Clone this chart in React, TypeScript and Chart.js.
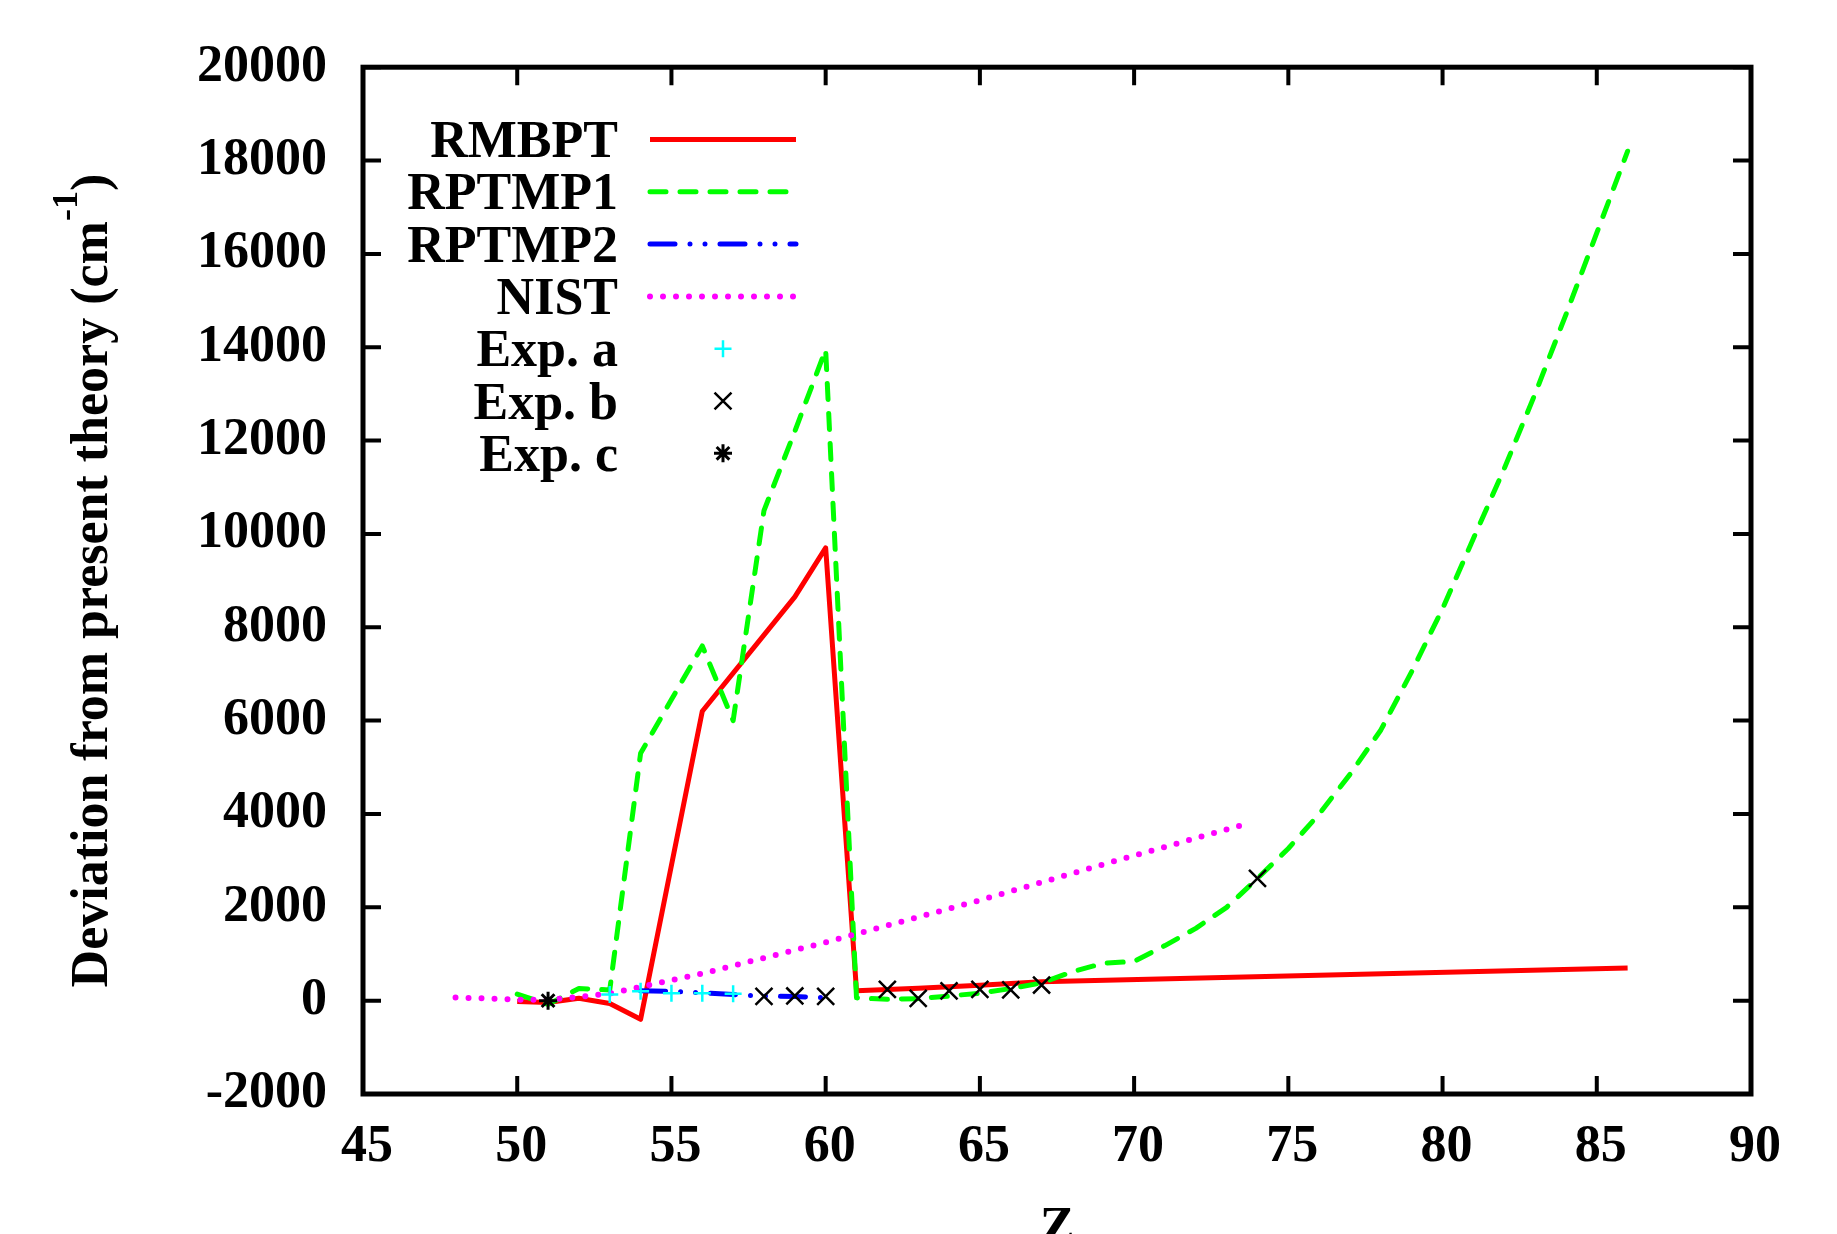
import React, { useEffect, useRef } from 'react';
import { Chart, registerables } from 'chart.js';

Chart.register(...registerables);

// ---- data ----
const rmbptZ = [50, 51, 52, 53, 54, 56, 59, 60, 61, 62, 63, 64, 65, 66, 67, 86];
const rmbptDev = [-20, -40, 50, -60, -400, 6200, 8650, 9700, 210, 240, 265, 300, 330, 370, 405, 700];

const rptmp1Z = [50, 51, 52, 53, 54, 55, 56, 57, 58, 59, 60, 61, 62, 63, 64, 65, 66, 67, 68, 69, 70, 71, 72, 73, 74, 75, 76, 77, 78, 79, 80, 81, 82, 83, 84, 85, 86];
const rptmp1Dev = [140, -80, 260, 230, 5300, 6450, 7600, 6000, 10500, 12200, 13950, 60, 30, 40, 100, 160, 260, 380, 620, 800, 840, 1180, 1550, 2000, 2620, 3260, 4000, 4850, 5800, 7050, 8400, 9900, 11400, 13000, 14700, 16450, 18200];

const rptmp2Z = [54, 55, 56, 57, 58, 59, 60];
const rptmp2Dev = [210, 200, 170, 130, 100, 90, 60];

const nistZ = [48, 50, 51, 53, 56, 60, 65, 69, 73.7];
const nistDev = [70, 20, 15, 150, 580, 1250, 2150, 2920, 3800];

const expAZ = [53, 54, 55, 56, 57];
const expADev = [130, 200, 160, 160, 150];

const expBZ = [58, 59, 60, 62, 63, 64, 65, 66, 67, 74];
const expBDev = [90, 100, 90, 240, 50, 210, 240, 230, 335, 2620];

const expCZ = [51];
const expCDev = [0];

const zTicks = [45, 50, 55, 60, 65, 70, 75, 80, 85, 90];
const devTicks = [-2000, 0, 2000, 4000, 6000, 8000, 10000, 12000, 14000, 16000, 18000, 20000];

const legendLabels = ['RMBPT', 'RPTMP1', 'RPTMP2', 'NIST', 'Exp. a', 'Exp. b', 'Exp. c'];
const yTitle = 'Deviation from present theory (cm';
const yTitleSup = '-1';
const xTitle = 'Z';

const FAMILY = "'Liberation Serif', 'Times New Roman', serif";
const W = 1837;
const H = 1234;

const pts = (xs: number[], ys: number[]) => xs.map((x, i) => ({ x, y: ys[i] }));

function drawMarker(ctx: CanvasRenderingContext2D, style: string, x: number, y: number, r: number) {
  ctx.beginPath();
  if (style === 'cross' || style === 'star') {
    ctx.moveTo(x - r, y); ctx.lineTo(x + r, y);
    ctx.moveTo(x, y - r); ctx.lineTo(x, y + r);
  }
  if (style === 'crossRot' || style === 'star') {
    const d = r * Math.SQRT1_2;
    ctx.moveTo(x - d, y - d); ctx.lineTo(x + d, y + d);
    ctx.moveTo(x - d, y + d); ctx.lineTo(x + d, y - d);
  }
  ctx.stroke();
}

const framePlugin = {
  id: 'gnuFrame',
  afterDatasetsDraw(chart: any) {
    const { ctx, chartArea, scales } = chart;
    const { left, right, top, bottom } = chartArea;
    const TICK = 18;
    ctx.save();
    ctx.strokeStyle = '#000';
    ctx.lineWidth = 4;
    ctx.beginPath();
    for (const v of zTicks) {
      const px = scales.x.getPixelForValue(v);
      ctx.moveTo(px, bottom); ctx.lineTo(px, bottom - TICK);
      ctx.moveTo(px, top); ctx.lineTo(px, top + TICK);
    }
    for (const v of devTicks) {
      const py = scales.y.getPixelForValue(v);
      ctx.moveTo(left, py); ctx.lineTo(left + TICK, py);
      ctx.moveTo(right, py); ctx.lineTo(right - TICK, py);
    }
    ctx.stroke();
    ctx.lineWidth = 5;
    ctx.lineJoin = 'miter';
    ctx.strokeRect(left, top, right - left, bottom - top);
    ctx.restore();
  },
  afterDraw(chart: any) {
    const { ctx, chartArea } = chart;
    ctx.save();
    // legend
    const textRight = 618;
    const sx0 = 650;
    const sx1 = 796;
    const mx = 723;
    chart.data.datasets.forEach((ds: any, i: number) => {
      const base = 157 + i * 52.3;
      const cy = base - 17.5;
      ctx.fillStyle = '#000';
      ctx.font = `bold 52px ${FAMILY}`;
      ctx.textAlign = 'right';
      ctx.textBaseline = 'alphabetic';
      ctx.fillText(legendLabels[i], textRight, base);
      if (ds.showLine !== false) {
        ctx.strokeStyle = ds.borderColor;
        ctx.lineWidth = ds.borderWidth;
        ctx.lineCap = ds.borderCapStyle || 'butt';
        ctx.setLineDash(ds.borderDash || []);
        ctx.beginPath();
        ctx.moveTo(sx0, cy);
        ctx.lineTo(sx1, cy);
        ctx.stroke();
        ctx.setLineDash([]);
      } else {
        ctx.strokeStyle = ds.pointBorderColor;
        ctx.lineWidth = ds.pointBorderWidth;
        ctx.lineCap = 'butt';
        drawMarker(ctx, ds.pointStyle, mx, cy, ds.pointRadius);
      }
    });

    // y title (rotated, with superscript)
    ctx.fillStyle = '#000';
    ctx.textBaseline = 'alphabetic';
    ctx.textAlign = 'left';
    const mainFont = `bold 52px ${FAMILY}`;
    const supFont = `bold 36px ${FAMILY}`;
    ctx.font = mainFont;
    const wMain = ctx.measureText(yTitle).width;
    const wClose = ctx.measureText(')').width;
    ctx.font = supFont;
    const wSup = ctx.measureText(yTitleSup).width;
    const total = wMain + wSup + wClose;
    const cyTitle = (chartArea.top + chartArea.bottom) / 2;
    ctx.translate(107, cyTitle);
    ctx.rotate(-Math.PI / 2);
    let u = -total / 2;
    ctx.font = mainFont;
    ctx.fillText(yTitle, u, 0);
    u += wMain;
    ctx.font = supFont;
    ctx.fillText(yTitleSup, u, -30);
    u += wSup;
    ctx.font = mainFont;
    ctx.fillText(')', u, 0);
    ctx.setTransform(1, 0, 0, 1, 0, 0);

    // x title
    ctx.font = mainFont;
    ctx.textAlign = 'center';
    ctx.fillText(xTitle, (chartArea.left + chartArea.right) / 2, 1243);
    ctx.restore();
  },
};

export default function App() {
  const ref = useRef<HTMLCanvasElement | null>(null);

  useEffect(() => {
    if (!ref.current) return;
    const tickFont = { family: FAMILY, size: 52, weight: 'bold' as const, lineHeight: 1.2 };
    const chart = new Chart(ref.current, {
      type: 'line',
      data: {
        datasets: [
          {
            label: legendLabels[0], data: pts(rmbptZ, rmbptDev),
            borderColor: '#ff0000', borderWidth: 5, pointRadius: 0, fill: false,
            borderJoinStyle: 'round', borderCapStyle: 'butt', order: 7,
          },
          {
            label: legendLabels[1], data: pts(rptmp1Z, rptmp1Dev),
            borderColor: '#00ff00', borderWidth: 5, pointRadius: 0, fill: false,
            borderDash: [16, 14], borderCapStyle: 'round', borderJoinStyle: 'round', order: 6,
          },
          {
            label: legendLabels[2], data: pts(rptmp2Z, rptmp2Dev),
            borderColor: '#0000ff', borderWidth: 5, pointRadius: 0, fill: false,
            borderDash: [25, 15, 0, 15, 0, 15], borderCapStyle: 'round', order: 5,
          },
          {
            label: legendLabels[3], data: pts(nistZ, nistDev),
            borderColor: '#ff00ff', borderWidth: 6, pointRadius: 0, fill: false,
            borderDash: [0, 13], borderCapStyle: 'round', order: 4,
          },
          {
            label: legendLabels[4], data: pts(expAZ, expADev), showLine: false,
            pointStyle: 'cross', pointRadius: 8.5, pointBorderColor: '#00ffff',
            pointBorderWidth: 2.5, pointBackgroundColor: '#00ffff', order: 3,
          },
          {
            label: legendLabels[5], data: pts(expBZ, expBDev), showLine: false,
            pointStyle: 'crossRot', pointRadius: 12, pointBorderColor: '#000000',
            pointBorderWidth: 2.5, pointBackgroundColor: '#000000', order: 2,
          },
          {
            label: legendLabels[6], data: pts(expCZ, expCDev), showLine: false,
            pointStyle: 'star', pointRadius: 9, pointBorderColor: '#000000',
            pointBorderWidth: 3, pointBackgroundColor: '#000000', order: 1,
          },
        ] as any,
      },
      options: {
        animation: false,
        responsive: false,
        maintainAspectRatio: false,
        layout: { padding: { top: 66, right: 86, left: 0, bottom: 0 } },
        plugins: {
          legend: { display: false },
          tooltip: { enabled: false },
          title: { display: false },
        },
        scales: {
          x: {
            type: 'linear', min: 45, max: 90,
            afterBuildTicks: (s: any) => { s.ticks = zTicks.map((v) => ({ value: v })); },
            afterFit: (s: any) => { s.height = 140; },
            grid: { display: false, drawTicks: false, tickLength: 0 },
            border: { display: false },
            ticks: {
              font: tickFont, color: '#000', padding: 22, labelOffset: 4,
              maxRotation: 0, autoSkip: false, callback: (v: any) => String(v),
            },
          },
          y: {
            type: 'linear', min: -2000, max: 20000,
            afterBuildTicks: (s: any) => { s.ticks = devTicks.map((v) => ({ value: v })); },
            afterFit: (s: any) => { s.width = 363; },
            grid: { display: false, drawTicks: false, tickLength: 0 },
            border: { display: false },
            ticks: {
              font: tickFont, color: '#000', padding: 36,
              autoSkip: false, callback: (v: any) => String(v),
            },
          },
        },
      } as any,
      plugins: [framePlugin],
    });
    return () => chart.destroy();
  }, []);

  return (
    <div style={{ position: 'absolute', left: 0, top: 0, width: W, height: H, background: '#fff' }}>
      <canvas ref={ref} width={W} height={H} style={{ display: 'block', width: W, height: H }} />
    </div>
  );
}
